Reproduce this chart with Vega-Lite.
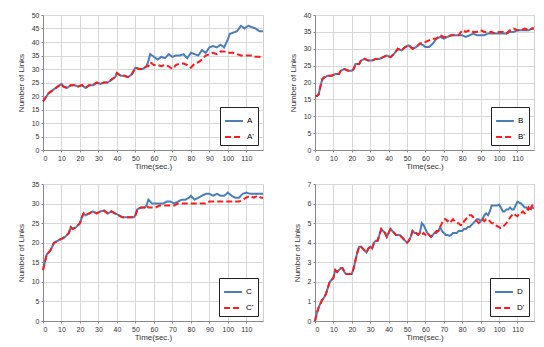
{
  "$schema": "https://vega.github.io/schema/vega-lite/v6.json",
  "padding": {"left": 16, "top": 10, "right": 2, "bottom": 2},
  "background": "white",
  "columns": 2,
  "spacing": {"row": 34, "column": 52},
  "bounds": "flush",
  "resolve": {"scale": {"color": "independent", "strokeDash": "independent", "x": "independent", "y": "independent"}, "legend": {"color": "independent", "strokeDash": "independent"}},
  "config": {
    "font": "Liberation Sans",
    "view": {"stroke": "#d0d0d0"},
    "axis": {"labelFontSize": 7, "titleFontSize": 8, "titleFontWeight": "normal", "labelColor": "#333", "titleColor": "#333", "gridColor": "#d9d9d9", "domainColor": "#888", "tickColor": "#888", "tickSize": 2, "labelPadding": 2},
    "axisY": {"titlePadding": 6},
    "axisX": {"titlePadding": 1},
    "legend": {"orient": "bottom-right", "offset": 5, "padding": 4, "strokeColor": "#222", "fillColor": "white", "symbolType": "stroke", "symbolSize": 320, "symbolStrokeWidth": 2, "labelFontSize": 8, "rowPadding": 2, "labelOffset": 3}
  },
  "concat": [
        {
          "width": 220, "height": 135,
          "data": {"values": [
            {"t":0,"a":18,"b":18},{"t":1,"a":19,"b":19},{"t":2,"a":20,"b":20},{"t":3,"a":21,"b":21},{"t":5,"a":22,"b":22},{"t":7,"a":23,"b":23},{"t":9,"a":24,"b":24},{"t":10,"a":24.5,"b":24.5},{"t":11,"a":23.5,"b":23.5},{"t":13,"a":23,"b":23},{"t":15,"a":24,"b":24},{"t":17,"a":24,"b":24},{"t":19,"a":23.5,"b":23.5},{"t":21,"a":24,"b":24},{"t":23,"a":23,"b":23},{"t":25,"a":24,"b":24},{"t":27,"a":24,"b":24},{"t":29,"a":25,"b":25},{"t":31,"a":24.5,"b":24.5},{"t":33,"a":25,"b":25},{"t":35,"a":25,"b":25},{"t":37,"a":26,"b":26},{"t":39,"a":27,"b":27},{"t":40,"a":28.5,"b":28.5},{"t":42,"a":27.5,"b":27.5},{"t":44,"a":27.5,"b":27.5},{"t":46,"a":27,"b":27},{"t":48,"a":28,"b":28},{"t":50,"a":30.5,"b":30.5},{"t":52,"a":30,"b":30},{"t":54,"a":30,"b":30},{"t":56,"a":31,"b":31},
            {"t":57,"a":33,"b":31},{"t":58,"a":35.5,"b":32.5},{"t":60,"a":34.5,"b":31.5},{"t":62,"a":33.5,"b":31.5},{"t":64,"a":34.5,"b":31},{"t":66,"a":34,"b":31.5},{"t":68,"a":35.5,"b":31},{"t":70,"a":34.5,"b":30},{"t":72,"a":35,"b":31.5},{"t":74,"a":35,"b":32},{"t":76,"a":35.5,"b":32},{"t":78,"a":34,"b":31.5},{"t":80,"a":36,"b":30.5},{"t":82,"a":35.5,"b":32},{"t":84,"a":35,"b":32.5},{"t":86,"a":37,"b":33.5},{"t":88,"a":36,"b":35},{"t":90,"a":38,"b":35.5},{"t":92,"a":38.5,"b":36},{"t":94,"a":38,"b":35.5},{"t":96,"a":39,"b":36.5},{"t":98,"a":38,"b":36.5},{"t":100,"a":41,"b":36},{"t":101,"a":43,"b":36},{"t":103,"a":43.5,"b":36},{"t":105,"a":44,"b":35.5},{"t":107,"a":46,"b":35},{"t":109,"a":45,"b":35},{"t":111,"a":46,"b":35},{"t":113,"a":45.5,"b":35},{"t":115,"a":45,"b":34.5},{"t":117,"a":44,"b":34.5},{"t":119,"a":44,"b":34}
          ]},
          "transform": [{"fold": ["a", "b"], "as": ["s", "v"]}],
          "mark": {"type": "line", "strokeWidth": 2},
          "encoding": {
            "x": {"field": "t", "type": "quantitative", "scale": {"domain": [0, 119], "nice": false}, "axis": {"values": [0,10,20,30,40,50,60,70,80,90,100,110], "title": "Time(sec.)"}},
            "y": {"field": "v", "type": "quantitative", "scale": {"domain": [0, 50], "nice": false}, "axis": {"values": [0,5,10,15,20,25,30,35,40,45,50], "title": "Number of Links"}},
            "color": {"field": "s", "type": "nominal", "scale": {"domain": ["a","b"], "range": ["#4a7ebb","#ff1a1a"]}, "legend": {"title": null, "labelExpr": "datum.label=='a'?'A':\"A'\""}},
            "strokeDash": {"field": "s", "type": "nominal", "scale": {"domain": ["a","b"], "range": [[1,0],[6,3]]}, "legend": {"title": null, "labelExpr": "datum.label=='a'?'A':\"A'\""}}
          }
        },
        {
          "width": 219, "height": 135,
          "data": {"values": [
            {"t":0,"a":16,"b":16},{"t":1,"a":16,"b":16},{"t":2,"a":16.5,"b":16.5},{"t":3,"a":19,"b":19},{"t":4,"a":21,"b":21},{"t":5,"a":21.5,"b":21.5},{"t":7,"a":22,"b":22},{"t":9,"a":22,"b":22},{"t":11,"a":22.5,"b":22.5},{"t":13,"a":22.5,"b":22.5},{"t":14,"a":23.5,"b":23.5},{"t":16,"a":24,"b":24},{"t":18,"a":23.5,"b":23.5},{"t":20,"a":23.5,"b":23.5},{"t":21,"a":24,"b":24},{"t":22,"a":25.5,"b":25.5},{"t":24,"a":25.5,"b":25.5},{"t":25,"a":26.5,"b":26.5},{"t":27,"a":27,"b":27},{"t":29,"a":26.5,"b":26.5},{"t":31,"a":26.5,"b":26.5},{"t":33,"a":27,"b":27},{"t":35,"a":27,"b":27},{"t":37,"a":27.5,"b":27.5},{"t":39,"a":28,"b":28},{"t":41,"a":27.5,"b":27.5},{"t":43,"a":28.5,"b":28.5},{"t":45,"a":30,"b":30},{"t":47,"a":29.5,"b":29.5},{"t":49,"a":30.5,"b":30.5},{"t":51,"a":31,"b":31},{"t":53,"a":30,"b":30},{"t":55,"a":30.5,"b":30.5},{"t":57,"a":31.5,"b":31.5},
            {"t":59,"a":31,"b":32},{"t":60,"a":30.5,"b":32},{"t":62,"a":30.5,"b":32.5},{"t":64,"a":31.5,"b":33},{"t":66,"a":33,"b":33},{"t":68,"a":33.5,"b":34},{"t":70,"a":33,"b":33.5},{"t":72,"a":33.5,"b":33.5},{"t":74,"a":34,"b":34},{"t":76,"a":34,"b":34},{"t":78,"a":34,"b":34},{"t":80,"a":34,"b":35.5},{"t":82,"a":33.5,"b":35},{"t":84,"a":34,"b":35.5},{"t":86,"a":34.5,"b":35},{"t":88,"a":34,"b":35},{"t":90,"a":34,"b":35.5},{"t":92,"a":34,"b":35},{"t":94,"a":34.5,"b":35},{"t":96,"a":34.5,"b":35},{"t":98,"a":34.5,"b":34.5},{"t":100,"a":34.5,"b":35},{"t":102,"a":34.5,"b":35},{"t":104,"a":34.5,"b":34.5},{"t":106,"a":35,"b":35.5},{"t":108,"a":35,"b":36},{"t":110,"a":35.5,"b":35.5},{"t":112,"a":35.5,"b":35.5},{"t":114,"a":35.5,"b":36},{"t":116,"a":35.5,"b":35.5},{"t":118,"a":36,"b":36},{"t":119,"a":36,"b":36}
          ]},
          "transform": [{"fold": ["a", "b"], "as": ["s", "v"]}],
          "mark": {"type": "line", "strokeWidth": 2},
          "encoding": {
            "x": {"field": "t", "type": "quantitative", "scale": {"domain": [0, 119], "nice": false}, "axis": {"values": [0,10,20,30,40,50,60,70,80,90,100,110], "title": "Time(sec.)"}},
            "y": {"field": "v", "type": "quantitative", "scale": {"domain": [0, 40], "nice": false}, "axis": {"values": [0,5,10,15,20,25,30,35,40], "title": "Number of Links"}},
            "color": {"field": "s", "type": "nominal", "scale": {"domain": ["a","b"], "range": ["#4a7ebb","#ff1a1a"]}, "legend": {"title": null, "labelExpr": "datum.label=='a'?'B':\"B'\""}},
            "strokeDash": {"field": "s", "type": "nominal", "scale": {"domain": ["a","b"], "range": [[1,0],[6,3]]}, "legend": {"title": null, "labelExpr": "datum.label=='a'?'B':\"B'\""}}
          }
        },
        {
          "width": 220, "height": 137,
          "data": {"values": [
            {"t":0,"a":13,"b":13},{"t":1,"a":15,"b":15},{"t":2,"a":17,"b":17},{"t":3,"a":17.5,"b":17.5},{"t":4,"a":18,"b":18},{"t":5,"a":19,"b":19},{"t":6,"a":20,"b":20},{"t":8,"a":20.5,"b":20.5},{"t":10,"a":21,"b":21},{"t":12,"a":21.5,"b":21.5},{"t":14,"a":22.5,"b":22.5},{"t":15,"a":24,"b":24},{"t":16,"a":23.5,"b":23.5},{"t":18,"a":24,"b":24},{"t":20,"a":25,"b":25},{"t":21,"a":26.5,"b":26.5},{"t":22,"a":27.5,"b":27.5},{"t":23,"a":27,"b":27},{"t":25,"a":27.5,"b":27.5},{"t":27,"a":28,"b":28},{"t":29,"a":27.5,"b":27.5},{"t":31,"a":28,"b":28},{"t":33,"a":28.2,"b":28.2},{"t":35,"a":27.5,"b":27.5},{"t":37,"a":28,"b":28},{"t":39,"a":27.5,"b":27.5},{"t":41,"a":27,"b":27},{"t":43,"a":26.5,"b":26.5},{"t":45,"a":26.5,"b":26.5},{"t":47,"a":26.5,"b":26.5},{"t":49,"a":26.5,"b":26.5},{"t":50,"a":27,"b":27},{"t":51,"a":28.5,"b":28.5},{"t":53,"a":29,"b":29},{"t":55,"a":29,"b":29},{"t":56,"a":29.5,"b":29.5},
            {"t":57,"a":31,"b":29},{"t":59,"a":30,"b":29},{"t":61,"a":30,"b":29},{"t":63,"a":30,"b":29.5},{"t":65,"a":30,"b":29.5},{"t":67,"a":30.5,"b":29.5},{"t":69,"a":30.5,"b":29.5},{"t":71,"a":30,"b":29.5},{"t":73,"a":30.5,"b":30},{"t":75,"a":31,"b":30},{"t":77,"a":31,"b":30},{"t":79,"a":31.5,"b":30},{"t":80,"a":32,"b":30},{"t":82,"a":31,"b":30},{"t":84,"a":31.5,"b":30},{"t":86,"a":32,"b":30},{"t":88,"a":32.5,"b":30},{"t":90,"a":32.5,"b":30.5},{"t":92,"a":32,"b":30.5},{"t":94,"a":32.5,"b":30.5},{"t":96,"a":32,"b":30.5},{"t":98,"a":32,"b":30.5},{"t":100,"a":32.8,"b":30.5},{"t":102,"a":32,"b":30.5},{"t":104,"a":31.5,"b":30.5},{"t":106,"a":31.5,"b":30.5},{"t":108,"a":32.5,"b":31},{"t":110,"a":32.8,"b":31.5},{"t":112,"a":32.5,"b":32},{"t":114,"a":32.5,"b":31.5},{"t":116,"a":32.5,"b":32},{"t":118,"a":32.5,"b":31.5},{"t":119,"a":32.5,"b":31.5}
          ]},
          "transform": [{"fold": ["a", "b"], "as": ["s", "v"]}],
          "mark": {"type": "line", "strokeWidth": 2},
          "encoding": {
            "x": {"field": "t", "type": "quantitative", "scale": {"domain": [0, 119], "nice": false}, "axis": {"values": [0,10,20,30,40,50,60,70,80,90,100,110], "title": "Time(sec.)"}},
            "y": {"field": "v", "type": "quantitative", "scale": {"domain": [0, 35], "nice": false}, "axis": {"values": [0,5,10,15,20,25,30,35], "title": "Number of Links"}},
            "color": {"field": "s", "type": "nominal", "scale": {"domain": ["a","b"], "range": ["#4a7ebb","#ff1a1a"]}, "legend": {"title": null, "labelExpr": "datum.label=='a'?'C':\"C'\""}},
            "strokeDash": {"field": "s", "type": "nominal", "scale": {"domain": ["a","b"], "range": [[1,0],[6,3]]}, "legend": {"title": null, "labelExpr": "datum.label=='a'?'C':\"C'\""}}
          }
        },
        {
          "width": 219, "height": 137,
          "data": {"values": [
            {"t":0,"a":0,"b":0},{"t":1,"a":0.4,"b":0.4},{"t":2,"a":0.7,"b":0.7},{"t":3,"a":0.9,"b":0.9},{"t":4,"a":1.1,"b":1.1},{"t":5,"a":1.2,"b":1.2},{"t":6,"a":1.4,"b":1.4},{"t":7,"a":1.7,"b":1.7},{"t":8,"a":2,"b":2},{"t":9,"a":2.1,"b":2.1},{"t":10,"a":2.2,"b":2.2},{"t":11,"a":2.6,"b":2.6},{"t":12,"a":2.5,"b":2.5},{"t":13,"a":2.6,"b":2.6},{"t":14,"a":2.7,"b":2.7},{"t":15,"a":2.7,"b":2.7},{"t":16,"a":2.5,"b":2.5},{"t":17,"a":2.4,"b":2.4},{"t":19,"a":2.4,"b":2.4},{"t":20,"a":2.4,"b":2.4},{"t":21,"a":2.7,"b":2.7},{"t":22,"a":3.1,"b":3.1},{"t":23,"a":3.5,"b":3.5},{"t":24,"a":3.8,"b":3.8},{"t":25,"a":3.8,"b":3.8},{"t":26,"a":3.7,"b":3.7},{"t":27,"a":3.6,"b":3.6},{"t":28,"a":3.5,"b":3.5},{"t":29,"a":3.7,"b":3.7},{"t":30,"a":3.8,"b":3.8},{"t":31,"a":3.7,"b":3.7},{"t":32,"a":4,"b":4},{"t":33,"a":4.1,"b":4.1},{"t":34,"a":4.1,"b":4.1},{"t":35,"a":4.4,"b":4.4},{"t":36,"a":4.7,"b":4.7},{"t":37,"a":4.6,"b":4.6},{"t":38,"a":4.5,"b":4.5},{"t":39,"a":4.3,"b":4.3},{"t":40,"a":4.5,"b":4.5},{"t":41,"a":4.7,"b":4.7},{"t":42,"a":4.6,"b":4.6},{"t":43,"a":4.5,"b":4.5},{"t":44,"a":4.4,"b":4.4},{"t":46,"a":4.4,"b":4.4},{"t":47,"a":4.3,"b":4.3},{"t":48,"a":4.2,"b":4.2},{"t":49,"a":4.1,"b":4.1},{"t":50,"a":4,"b":4},{"t":51,"a":4.1,"b":4.1},{"t":52,"a":4.3,"b":4.3},{"t":53,"a":4.6,"b":4.6},{"t":54,"a":4.5,"b":4.5},{"t":55,"a":4.5,"b":4.5},{"t":56,"a":4.4,"b":4.4},{"t":57,"a":4.5,"b":4.5},
            {"t":58,"a":5,"b":4.4},{"t":59,"a":4.9,"b":4.5},{"t":60,"a":4.7,"b":4.4},{"t":61,"a":4.5,"b":4.5},{"t":62,"a":4.4,"b":4.4},{"t":63,"a":4.3,"b":4.3},{"t":64,"a":4.4,"b":4.4},{"t":65,"a":4.5,"b":4.5},{"t":66,"a":4.5,"b":4.6},{"t":67,"a":4.6,"b":4.6},{"t":68,"a":4.8,"b":4.8},{"t":69,"a":4.6,"b":5},{"t":70,"a":4.5,"b":5.2},{"t":71,"a":4.4,"b":5.2},{"t":72,"a":4.4,"b":5.1},{"t":73,"a":4.35,"b":5.2},{"t":74,"a":4.4,"b":5.1},{"t":75,"a":4.5,"b":5.2},{"t":76,"a":4.5,"b":5.1},{"t":77,"a":4.5,"b":5},{"t":78,"a":4.6,"b":5},{"t":79,"a":4.6,"b":4.9},{"t":80,"a":4.6,"b":4.9},{"t":81,"a":4.7,"b":5.1},{"t":82,"a":4.7,"b":5.2},{"t":83,"a":4.8,"b":5.3},{"t":84,"a":4.8,"b":5.4},{"t":85,"a":4.9,"b":5.4},{"t":86,"a":5,"b":5.3},{"t":87,"a":5.1,"b":5.2},{"t":88,"a":5.2,"b":5.1},{"t":89,"a":5.2,"b":5},{"t":90,"a":5.1,"b":5.1},{"t":91,"a":5.2,"b":5.2},{"t":92,"a":5.4,"b":5.1},{"t":93,"a":5.5,"b":5.2},{"t":94,"a":5.4,"b":5.2},{"t":95,"a":5.6,"b":5.1},{"t":96,"a":5.9,"b":5},{"t":97,"a":5.9,"b":5},{"t":98,"a":5.9,"b":4.9},{"t":99,"a":5.9,"b":4.85},{"t":100,"a":5.95,"b":4.8},{"t":101,"a":5.8,"b":4.75},{"t":102,"a":5.6,"b":4.8},{"t":103,"a":5.6,"b":4.9},{"t":104,"a":5.7,"b":5},{"t":105,"a":5.7,"b":5.1},{"t":106,"a":5.8,"b":5.3},{"t":107,"a":5.7,"b":5.4},{"t":108,"a":5.7,"b":5.5},{"t":109,"a":5.9,"b":5.4},{"t":110,"a":6.1,"b":5.35},{"t":111,"a":6.05,"b":5.5},{"t":112,"a":6,"b":5.5},{"t":113,"a":5.9,"b":5.6},{"t":114,"a":5.8,"b":5.5},{"t":115,"a":5.8,"b":5.6},{"t":116,"a":5.7,"b":5.8},{"t":117,"a":5.8,"b":5.6},{"t":118,"a":5.8,"b":5.9},{"t":119,"a":5.75,"b":5.9}
          ]},
          "transform": [{"fold": ["a", "b"], "as": ["s", "v"]}],
          "mark": {"type": "line", "strokeWidth": 2},
          "encoding": {
            "x": {"field": "t", "type": "quantitative", "scale": {"domain": [0, 119], "nice": false}, "axis": {"values": [0,10,20,30,40,50,60,70,80,90,100,110], "title": "Time(sec.)"}},
            "y": {"field": "v", "type": "quantitative", "scale": {"domain": [0, 7], "nice": false}, "axis": {"values": [0,1,2,3,4,5,6,7], "title": "Number of Links"}},
            "color": {"field": "s", "type": "nominal", "scale": {"domain": ["a","b"], "range": ["#4a7ebb","#ff1a1a"]}, "legend": {"title": null, "labelExpr": "datum.label=='a'?'D':\"D'\""}},
            "strokeDash": {"field": "s", "type": "nominal", "scale": {"domain": ["a","b"], "range": [[1,0],[6,3]]}, "legend": {"title": null, "labelExpr": "datum.label=='a'?'D':\"D'\""}}
          }
        }
  ]
}
